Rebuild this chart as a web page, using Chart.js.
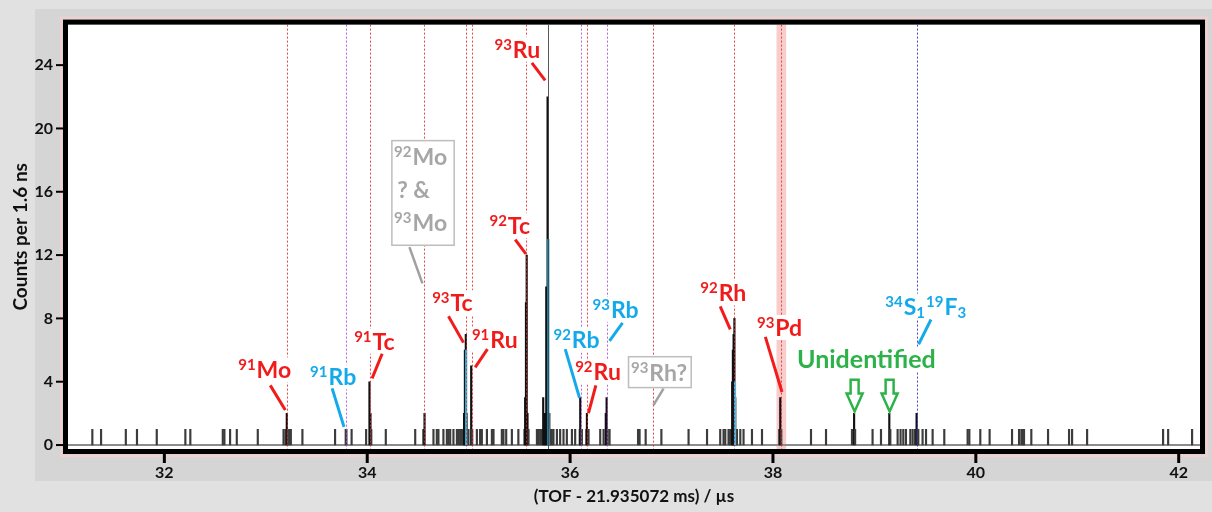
<!DOCTYPE html>
<html>
<head>
<meta charset="utf-8">
<title>TOF spectrum</title>
<script src="https://cdn.jsdelivr.net/npm/chart.js@4.4.1/dist/chart.umd.min.js"></script>
<style>
    html, body { margin: 0; padding: 0; background: #e1e1e1; }
    canvas { display: block; }
</style>
</head>
<body>
<canvas id="tofChart" width="1212" height="512"></canvas>
<script>
// Histogram bins (TOF - 21.935072 ms, in µs) and counts per 1.6 ns bin
const tof = [
    31.290, 31.376, 31.620, 31.730, 31.925, 32.207, 32.256, 32.576, 32.592, 32.648,
    32.714, 32.921, 33.175, 33.195, 33.207, 33.217, 33.232, 33.247, 33.361, 33.683,
    33.788, 33.795, 33.846, 33.989, 34.022, 34.032, 34.040, 34.183, 34.473, 34.553,
    34.565, 34.653, 34.686, 34.702, 34.751, 34.785, 34.801, 34.818, 34.850, 34.884,
    34.900, 34.916, 34.933, 34.948, 34.955, 34.963, 34.972, 34.980, 34.990, 34.998,
    35.025, 35.035, 35.081, 35.113, 35.130, 35.180, 35.229, 35.245, 35.327, 35.343,
    35.370, 35.426, 35.490, 35.550, 35.557, 35.565, 35.572, 35.580, 35.590, 35.673,
    35.688, 35.705, 35.722, 35.735, 35.745, 35.755, 35.765, 35.778, 35.795, 35.804,
    35.820, 35.836, 35.870, 35.902, 35.935, 35.968, 36.018, 36.050, 36.095, 36.100,
    36.110, 36.116, 36.160, 36.166, 36.182, 36.297, 36.330, 36.352, 36.360, 36.370,
    36.389, 36.670, 36.685, 36.745, 36.900, 37.168, 37.350, 37.480, 37.513, 37.530,
    37.562, 37.578, 37.590, 37.598, 37.605, 37.612, 37.620, 37.628, 37.635, 37.645,
    37.678, 37.710, 37.793, 37.892, 38.062, 38.072, 38.082, 38.375, 38.523, 38.779,
    38.800, 38.810, 38.982, 39.065, 39.147, 39.157, 39.229, 39.258, 39.285, 39.311,
    39.354, 39.377, 39.400, 39.416, 39.425, 39.433, 39.475, 39.509, 39.574, 39.689,
    39.919, 39.936, 40.044, 40.136, 40.357, 40.426, 40.449, 40.466, 40.475, 40.547,
    40.712, 40.919, 40.949, 41.097, 41.846, 41.896, 42.132
];
const counts = [
    1, 1, 1, 1, 1, 1, 1, 1, 1, 1,
    1, 1, 1, 1, 2, 1, 1, 1, 1, 1,
    1, 1, 1, 1, 4, 2, 1, 1, 1, 1,
    2, 1, 1, 1, 1, 1, 1, 1, 1, 1,
    1, 1, 1, 1, 2, 6, 7, 2, 1, 1,
    5, 1, 1, 1, 1, 1, 1, 1, 1, 1,
    1, 1, 1, 1, 3, 9, 12, 2, 1, 1,
    1, 1, 1, 3, 2, 2, 10, 22, 2, 1,
    1, 1, 1, 1, 1, 1, 1, 1, 1, 3,
    1, 1, 1, 2, 1, 1, 1, 2, 3, 1,
    1, 1, 1, 1, 1, 1, 1, 1, 1, 1,
    1, 1, 1, 4, 6, 7, 8, 3, 1, 1,
    1, 1, 1, 1, 1, 3, 1, 1, 1, 1,
    2, 1, 1, 1, 2, 1, 1, 1, 1, 1,
    1, 1, 1, 2, 1, 1, 1, 1, 1, 1,
    1, 1, 1, 1, 1, 1, 1, 1, 1, 1,
    1, 1, 1, 1, 1, 1, 1
];

// Highlighted sub-spectrum
const cyanTof = [34.976, 35.787, 37.626];
const cyanCounts = [6, 13, 4];

const xTicks = [32, 34, 36, 38, 40, 42];
const yTicks = [0, 4, 8, 12, 16, 20, 24];

// Expected positions of the species
const redLines = [33.21, 34.03, 34.557, 34.972, 35.031, 35.567, 36.166, 36.817, 37.616, 38.082];
const purpleLines = [33.79, 36.107, 36.363];
const blueLines = [39.416];
const darkLines = [35.781];
const pdBand = [38.035, 38.13];

// Unidentified peaks
const unknownPeaks = [38.805, 39.150];

const RED = '#f21b1b';
const CYAN = '#14aaea';
const GREEN = '#2db24a';
const GREY_TEXT = '#a6a6a6';

// Label anchors are in data units: x in µs, y in counts (text baseline)
const isotopeLabels = [
    { parts: [['91', 'sup'], ['Mo']], color: RED, x: 32.728, y: 4.21, leader: [33.044, 3.77, 33.192, 2.21] },
    { parts: [['91', 'sup'], ['Rb']], color: CYAN, x: 33.437, y: 3.77, leader: [33.654, 3.58, 33.771, 1.15] },
    { parts: [['91', 'sup'], ['Tc']], color: RED, x: 33.871, y: 6.02, leader: [34.147, 5.77, 34.048, 4.21] },
    { parts: [['93', 'sup'], ['Tc']], color: RED, x: 34.640, y: 8.45, leader: [34.801, 8.14, 34.949, 6.47] },
    { parts: [['91', 'sup'], ['Ru']], color: RED, x: 35.032, y: 6.16, leader: [35.185, 6.06, 35.064, 4.91] },
    { parts: [['92', 'sup'], ['Tc']], color: RED, x: 35.205, y: 13.33, leader: [35.459, 12.98, 35.564, 12.08] },
    { parts: [['93', 'sup'], ['Ru']], color: RED, x: 35.254, y: 24.47, leader: [35.623, 24.14, 35.754, 23.04] },
    { parts: [['92', 'sup'], ['Rb']], color: CYAN, x: 35.836, y: 6.10, leader: [35.952, 6.06, 36.093, 2.98] },
    { parts: [['93', 'sup'], ['Rb']], color: CYAN, x: 36.221, y: 8.03, leader: [36.517, 7.72, 36.389, 6.58] },
    { parts: [['92', 'sup'], ['Ru']], color: RED, x: 36.050, y: 4.08, leader: [36.254, 3.77, 36.181, 2.01] },
    { parts: [['92', 'sup'], ['Rh']], color: RED, x: 37.283, y: 9.07, leader: [37.480, 8.76, 37.579, 7.31] },
    { parts: [['93', 'sup'], ['Pd']], color: RED, x: 37.842, y: 6.89, leader: [37.925, 6.83, 38.089, 3.35] },
    { parts: [['34', 'sup'], ['S'], ['1', 'sub'], ['19', 'sup'], ['F'], ['3', 'sub']], color: CYAN, x: 39.108, y: 8.24, leader: [39.558, 7.93, 39.436, 6.37] },
    { parts: [['Unidentified']], color: GREEN, x: 38.237, y: 4.88, size: 25 }
];

// Tentative assignments, drawn in grey boxes
const boxedLabels = [
    {
        lines: [[['92', 'sup'], ['Mo']], [['? &']], [['93', 'sup'], ['Mo']]],
        lineX: [34.265, 34.295, 34.265], lineY: [17.67, 15.62, 13.5],
        box: [34.243, 19.23, 34.857, 12.62], leader: [34.416, 12.5, 34.544, 10.21]
    },
    {
        lines: [[['93', 'sup'], ['Rh?']]],
        lineX: [36.600], lineY: [4.02],
        box: [36.576, 5.58, 37.194, 3.63], leader: [36.921, 3.57, 36.822, 2.52]
    }
];

const SMALL_FONT = 'bold 15px Lato';
const mainFont = size => `bold ${size || 23}px Lato`;

// Width of a label made of normal / sup / sub parts
function richWidth(ctx, parts, size) {
    let w = 0;
    parts.forEach(([t, kind]) => {
        ctx.font = kind ? SMALL_FONT : mainFont(size);
        w += ctx.measureText(t).width + (kind ? 1 : 0);
    });
    return w;
}

function drawRich(ctx, parts, x, y, color, size) {
    let cx = x;
    ctx.fillStyle = color;
    ctx.textAlign = 'left';
    ctx.textBaseline = 'alphabetic';
    parts.forEach(([t, kind]) => {
        ctx.font = kind ? SMALL_FONT : mainFont(size);
        const dy = kind === 'sup' ? -8 : kind === 'sub' ? 3 : 0;
        ctx.fillText(t, cx, y + dy);
        cx += ctx.measureText(t).width + (kind ? 1 : 0);
    });
}

function drawLeader(ctx, xs, ys, seg, color, width) {
    ctx.save();
    ctx.strokeStyle = color;
    ctx.lineWidth = width;
    ctx.beginPath();
    ctx.moveTo(xs(seg[0]), ys(seg[1]));
    ctx.lineTo(xs(seg[2]), ys(seg[3]));
    ctx.stroke();
    ctx.restore();
}

// Hollow arrow pointing down at a peak
function drawArrow(ctx, cx, top, tip) {
    const shaft = 4, head = 8, headTop = tip - 18;
    ctx.save();
    ctx.strokeStyle = GREEN;
    ctx.fillStyle = '#fff';
    ctx.lineWidth = 2.5;
    ctx.beginPath();
    ctx.moveTo(cx - shaft, top);
    ctx.lineTo(cx + shaft, top);
    ctx.lineTo(cx + shaft, headTop);
    ctx.lineTo(cx + head, headTop);
    ctx.lineTo(cx, tip);
    ctx.lineTo(cx - head, headTop);
    ctx.lineTo(cx - shaft, headTop);
    ctx.closePath();
    ctx.fill();
    ctx.stroke();
    ctx.restore();
}

const spectrumPlugin = {
    id: 'spectrum',

    // Panel backgrounds and white plot area
    beforeDraw(chart) {
        const { ctx, chartArea: a } = chart;
        ctx.save();
        ctx.fillStyle = '#e1e1e1';
        ctx.fillRect(0, 0, chart.width, chart.height);
        ctx.fillStyle = '#d5d5d5';
        ctx.fillRect(35, 9, chart.width - 35, 472);
        ctx.strokeStyle = '#f3d0d0';
        ctx.lineWidth = 2;
        ctx.strokeRect(a.left - 7, a.top - 7, a.right - a.left + 14, a.bottom - a.top + 14);
        ctx.fillStyle = '#fff';
        ctx.fillRect(a.left, a.top, a.right - a.left, a.bottom - a.top);
        ctx.restore();
    },

    // 93Pd window and zero line under the bars
    beforeDatasetsDraw(chart) {
        const { ctx, chartArea: a, scales: { x, y } } = chart;
        ctx.save();
        ctx.beginPath();
        ctx.rect(a.left, a.top, a.right - a.left, a.bottom - a.top);
        ctx.clip();
        ctx.fillStyle = 'rgba(240, 120, 120, 0.38)';
        const x0 = x.getPixelForValue(pdBand[0]);
        const x1 = x.getPixelForValue(pdBand[1]);
        ctx.fillRect(x0, a.top, x1 - x0, a.bottom - a.top);
        ctx.strokeStyle = '#8c8c8c';
        ctx.lineWidth = 2;
        ctx.beginPath();
        ctx.moveTo(a.left, y.getPixelForValue(0));
        ctx.lineTo(a.right, y.getPixelForValue(0));
        ctx.stroke();
        ctx.restore();
    },

    // Reference lines and labels
    afterDatasetsDraw(chart) {
        const { ctx, chartArea: a, scales: { x, y } } = chart;
        const xs = v => x.getPixelForValue(v);
        const ys = v => y.getPixelForValue(v);

        ctx.save();
        ctx.beginPath();
        ctx.rect(a.left, a.top, a.right - a.left, a.bottom - a.top);
        ctx.clip();

        const vlines = (list, color, dash) => {
            ctx.strokeStyle = color;
            ctx.lineWidth = 1;
            ctx.setLineDash(dash);
            list.forEach(v => {
                const px = Math.round(xs(v)) + 0.5;
                ctx.beginPath();
                ctx.moveTo(px, a.top);
                ctx.lineTo(px, a.bottom);
                ctx.stroke();
            });
        };
        vlines(redLines, 'rgba(226, 40, 40, 0.85)', [2, 2]);
        vlines(purpleLines, 'rgba(170, 70, 220, 0.85)', [2, 2]);
        vlines(blueLines, 'rgba(50, 50, 200, 0.9)', [2, 2]);
        vlines(darkLines, 'rgba(60, 60, 60, 0.85)', []);
        ctx.setLineDash([]);

        // White backgrounds first so leaders stay visible
        ctx.fillStyle = '#fff';
        isotopeLabels.forEach(l => {
            const w = richWidth(ctx, l.parts, l.size);
            ctx.fillRect(xs(l.x) - 1, ys(l.y) - 21, w + 2, 25);
        });
        boxedLabels.forEach(b => {
            const bx = xs(b.box[0]), by = ys(b.box[1]);
            const bw = xs(b.box[2]) - bx, bh = ys(b.box[3]) - by;
            ctx.fillStyle = '#fff';
            ctx.fillRect(bx, by, bw, bh);
            ctx.strokeStyle = '#bdbdbd';
            ctx.lineWidth = 1.5;
            ctx.strokeRect(bx, by, bw, bh);
        });

        isotopeLabels.forEach(l => {
            if (l.leader) drawLeader(ctx, xs, ys, l.leader, l.color, 3);
        });
        boxedLabels.forEach(b => drawLeader(ctx, xs, ys, b.leader, '#a0a0a0', 2.5));

        isotopeLabels.forEach(l => drawRich(ctx, l.parts, xs(l.x), ys(l.y), l.color, l.size));
        boxedLabels.forEach(b => {
            b.lines.forEach((parts, i) => drawRich(ctx, parts, xs(b.lineX[i]), ys(b.lineY[i]), GREY_TEXT));
        });

        unknownPeaks.forEach(v => drawArrow(ctx, xs(v), ys(4.13), ys(2.12)));
        ctx.restore();
    },

    // Heavy frame with outward tick marks
    afterDraw(chart) {
        const { ctx, chartArea: a, scales: { x, y } } = chart;
        ctx.save();
        ctx.strokeStyle = '#000';
        ctx.lineWidth = 5;
        ctx.strokeRect(a.left - 2.5, a.top - 2.5, a.right - a.left + 5, a.bottom - a.top + 5);

        ctx.lineWidth = 2;
        yTicks.forEach(v => {
            const py = y.getPixelForValue(v);
            ctx.beginPath();
            ctx.moveTo(a.left - 12, py);
            ctx.lineTo(a.left - 5, py);
            ctx.stroke();
        });
        ctx.lineWidth = 3;
        xTicks.forEach(v => {
            const px = x.getPixelForValue(v);
            ctx.beginPath();
            ctx.moveTo(px, a.bottom + 5);
            ctx.lineTo(px, a.bottom + 14);
            ctx.stroke();
        });
        ctx.restore();
    }
};

Chart.defaults.font.family = 'Lato';

new Chart(document.getElementById('tofChart'), {
    type: 'bar',
    data: {
        datasets: [{
            label: 'Counts',
            data: tof.map((t, i) => ({ x: t, y: counts[i] })),
            backgroundColor: counts.map(c => (c > 1 ? '#111' : '#3c3c3c')),
            order: 2
        }, {
            label: 'Selected',
            data: cyanTof.map((t, i) => ({ x: t, y: cyanCounts[i] })),
            backgroundColor: '#3cc0f0',
            order: 1
        }]
    },
    options: {
        responsive: false,
        animation: false,
        devicePixelRatio: 1,
        layout: { padding: { top: 19, right: 12, left: 0, bottom: 0 } },
        datasets: {
            bar: { barThickness: 1.5, grouped: false, borderWidth: 0 }
        },
        plugins: {
            legend: { display: false },
            tooltip: { enabled: false }
        },
        scales: {
            x: {
                type: 'linear',
                min: 31.05,
                max: 42.21,
                offset: false,
                afterBuildTicks: s => { s.ticks = xTicks.map(v => ({ value: v })); },
                afterFit: s => { s.height = 63; },
                grid: { display: false, drawTicks: false },
                border: { display: false },
                ticks: {
                    padding: 14,
                    maxRotation: 0,
                    color: '#111',
                    font: { size: 16, weight: 'bold' }
                },
                title: {
                    display: true,
                    text: '(TOF - 21.935072 ms) / µs',
                    color: '#111',
                    font: { size: 17, weight: 'bold' },
                    padding: { top: 0, bottom: 5 }
                }
            },
            y: {
                min: -0.25,
                max: 26.56,
                afterBuildTicks: s => { s.ticks = yTicks.map(v => ({ value: v })); },
                afterFit: s => { s.width = 68; },
                grid: { display: false, drawTicks: false },
                border: { display: false },
                ticks: {
                    padding: 15,
                    color: '#111',
                    font: { size: 16, weight: 'bold' }
                },
                title: {
                    display: true,
                    text: 'Counts per 1.6 ns',
                    color: '#111',
                    font: { size: 19, weight: 'bold' },
                    padding: { top: 9, bottom: 0 }
                }
            }
        }
    },
    plugins: [spectrumPlugin]
});
</script>
</body>
</html>
